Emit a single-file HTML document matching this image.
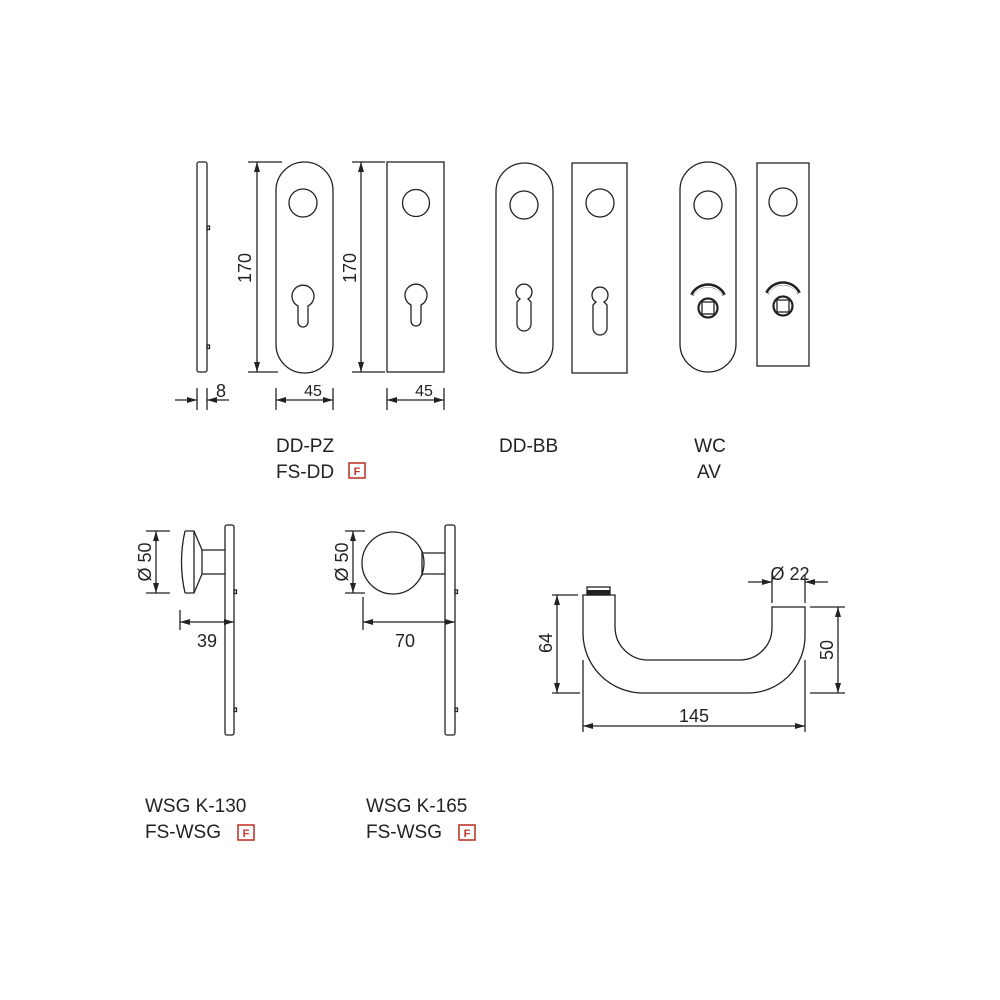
<!DOCTYPE html>
<html><head><meta charset="utf-8"><style>
html,body{margin:0;padding:0;background:#fff;}
svg{display:block;}
text{font-family:"Liberation Sans",sans-serif;fill:#222;}
</style></head><body>
<svg width="1000" height="1000" viewBox="0 0 1000 1000" xmlns="http://www.w3.org/2000/svg">
<defs>
<marker id="ar" viewBox="0 0 10 6" refX="10" refY="3" markerWidth="10" markerHeight="6" orient="auto-start-reverse" markerUnits="userSpaceOnUse"><path d="M0,0 L10,3 L0,6 Z" fill="#222"/></marker>
</defs>
<g fill="none" stroke="#222" stroke-width="1.3">
<!-- side plate -->
<rect x="197" y="162" width="10" height="210" rx="2"/>
<rect x="207" y="226" width="2.5" height="3.5"/>
<rect x="207" y="345" width="2.5" height="3.5"/>
<!-- dim 8 -->
<line x1="197" y1="388" x2="197" y2="410"/>
<line x1="207" y1="388" x2="207" y2="410"/>
<line x1="175" y1="400" x2="197" y2="400" marker-end="url(#ar)"/>
<line x1="229" y1="400" x2="207" y2="400" marker-end="url(#ar)"/>

<!-- DD-PZ oval -->
<rect x="276" y="162" width="57" height="211" rx="28.5"/>
<circle cx="303" cy="203" r="14"/>
<path d="M298,306 A11,11 0 1,1 308,306 L308,322 A5,5 0 0,1 298,322 Z"/>
<line x1="248" y1="162" x2="282" y2="162"/>
<line x1="248" y1="372" x2="278" y2="372"/>
<line x1="257" y1="162" x2="257" y2="372" marker-start="url(#ar)" marker-end="url(#ar)"/>
<line x1="276" y1="388" x2="276" y2="410"/>
<line x1="333" y1="388" x2="333" y2="410"/>
<line x1="276" y1="400" x2="333" y2="400" marker-start="url(#ar)" marker-end="url(#ar)"/>

<!-- rect PZ -->
<rect x="387" y="162" width="57" height="210"/>
<circle cx="416" cy="203" r="13.5"/>
<path d="M411,305 A11,11 0 1,1 421,305 L421,321 A5,5 0 0,1 411,321 Z"/>
<line x1="352" y1="162" x2="385" y2="162"/>
<line x1="352" y1="372" x2="385" y2="372"/>
<line x1="361" y1="162" x2="361" y2="372" marker-start="url(#ar)" marker-end="url(#ar)"/>
<line x1="387" y1="388" x2="387" y2="410"/>
<line x1="444" y1="388" x2="444" y2="410"/>
<line x1="387" y1="400" x2="444" y2="400" marker-start="url(#ar)" marker-end="url(#ar)"/>

<!-- DD-BB -->
<rect x="496" y="163" width="57" height="210" rx="28.5"/>
<circle cx="524" cy="205" r="14"/>
<path d="M520,299 A8,8 0 1,1 528,299 L531,302 L531,324 A7,7 0 0,1 517,324 L517,302 Z"/>
<rect x="572" y="163" width="55" height="210"/>
<circle cx="600" cy="203" r="14"/>
<path d="M596,302 A8,8 0 1,1 604,302 L607,305 L607,328 A7,7 0 0,1 593,328 L593,305 Z"/>

<!-- WC -->
<rect x="680" y="162" width="56" height="210" rx="28"/>
<circle cx="708" cy="205" r="14"/>
<rect x="757" y="163" width="52" height="203"/>
<circle cx="783" cy="202" r="14"/>
</g>
<g fill="none" stroke="#222">
<path d="M692,295 A18,18 0 0,1 724,295" stroke-width="4"/>
<circle cx="708" cy="308" r="9.5" stroke-width="2.2"/>
<rect x="702" y="302" width="12" height="12" stroke-width="1.3"/>
<path d="M767,293 A18,18 0 0,1 799,293" stroke-width="4"/>
<circle cx="783" cy="306" r="9.5" stroke-width="2.2"/>
<rect x="777" y="300" width="12" height="12" stroke-width="1.3"/>
</g>
<path d="M693.5,295 A16.5,16.5 0 0,1 722.5,295" stroke="#fff" stroke-width="1.3" fill="none"/>
<path d="M768.5,293 A16.5,16.5 0 0,1 797.5,293" stroke="#fff" stroke-width="1.3" fill="none"/>

<g fill="none" stroke="#222" stroke-width="1.3">
<!-- knob 1 -->
<rect x="225" y="525" width="9" height="210" rx="2"/>
<rect x="234" y="590" width="2.5" height="3.5"/>
<rect x="234" y="708" width="2.5" height="3.5"/>
<path d="M185,531 L194,531 L202,550 L225,550 M225,574 L202,574 L194,593 L185,593"/>
<path d="M185,531 Q178,562 185,593"/>
<line x1="194" y1="531" x2="194" y2="593"/>
<line x1="202" y1="550" x2="202" y2="574"/>
<line x1="146" y1="531" x2="170" y2="531"/>
<line x1="146" y1="593" x2="170" y2="593"/>
<line x1="156" y1="531" x2="156" y2="593" marker-start="url(#ar)" marker-end="url(#ar)"/>
<line x1="180" y1="610" x2="180" y2="630"/>
<line x1="180" y1="622" x2="234" y2="622" marker-start="url(#ar)" marker-end="url(#ar)"/>

<!-- knob 2 -->
<rect x="445" y="525" width="10" height="210" rx="2"/>
<rect x="455" y="590" width="2.5" height="3.5"/>
<rect x="455" y="708" width="2.5" height="3.5"/>
<circle cx="393" cy="563" r="31"/>
<path d="M422,553 L445,553 M445,574 L422,574 M422,551 L422,576"/>
<line x1="345" y1="531" x2="365" y2="531"/>
<line x1="345" y1="593" x2="365" y2="593"/>
<line x1="353" y1="531" x2="353" y2="593" marker-start="url(#ar)" marker-end="url(#ar)"/>
<line x1="363" y1="597" x2="363" y2="630"/>
<line x1="363" y1="622" x2="455" y2="622" marker-start="url(#ar)" marker-end="url(#ar)"/>

<!-- handle -->
<path d="M583,595 L583,633 A60,60 0 0,0 643,693 L748,693 A57,57 0 0,0 805,636 L805,607 L772,607 L772,628 A32,32 0 0,1 740,660 L648,660 A33,33 0 0,1 615,627 L615,595 Z"/>
<rect x="587" y="587" width="23" height="8"/>
<line x1="552" y1="595" x2="578" y2="595"/>
<line x1="552" y1="693" x2="580" y2="693"/>
<line x1="557" y1="595" x2="557" y2="693" marker-start="url(#ar)" marker-end="url(#ar)"/>
<line x1="810" y1="607" x2="845" y2="607"/>
<line x1="810" y1="693" x2="845" y2="693"/>
<line x1="838" y1="607" x2="838" y2="693" marker-start="url(#ar)" marker-end="url(#ar)"/>
<line x1="772" y1="575" x2="772" y2="603"/>
<line x1="805" y1="575" x2="805" y2="603"/>
<line x1="748" y1="582" x2="772" y2="582" marker-end="url(#ar)"/>
<line x1="828" y1="582" x2="805" y2="582" marker-end="url(#ar)"/>
<line x1="583" y1="660" x2="583" y2="732"/>
<line x1="805" y1="660" x2="805" y2="732"/>
<line x1="583" y1="726" x2="805" y2="726" marker-start="url(#ar)" marker-end="url(#ar)"/>
</g>
<rect x="587" y="590" width="23" height="5" fill="#222"/>

<!-- dimension texts -->
<g font-size="18">
<text x="216" y="397">8</text>
<text x="313" y="396" text-anchor="middle" font-size="16">45</text>
<text x="424" y="396" text-anchor="middle" font-size="16">45</text>
<text transform="translate(251,268) rotate(-90)" text-anchor="middle">170</text>
<text transform="translate(356,268) rotate(-90)" text-anchor="middle">170</text>
<text transform="translate(151,562) rotate(-90)" text-anchor="middle">Ø 50</text>
<text transform="translate(348,562) rotate(-90)" text-anchor="middle">Ø 50</text>
<text x="207" y="647" text-anchor="middle">39</text>
<text x="405" y="647" text-anchor="middle">70</text>
<text transform="translate(552,643) rotate(-90)" text-anchor="middle">64</text>
<text transform="translate(833,650) rotate(-90)" text-anchor="middle">50</text>
<text x="694" y="722" text-anchor="middle">145</text>
<text x="790" y="580" text-anchor="middle">Ø 22</text>
</g>
<!-- labels -->
<g font-size="19">
<text x="276" y="452">DD-PZ</text>
<text x="276" y="478">FS-DD</text>
<text x="499" y="452">DD-BB</text>
<text x="710" y="452" text-anchor="middle">WC</text>
<text x="709" y="478" text-anchor="middle">AV</text>
<text x="145" y="812">WSG K-130</text>
<text x="145" y="838">FS-WSG</text>
<text x="366" y="812">WSG K-165</text>
<text x="366" y="838">FS-WSG</text>
</g>
<g fill="none" stroke="#c0392b" stroke-width="1.6">
<rect x="349" y="463" width="16" height="15"/>
<rect x="238" y="825" width="16" height="15"/>
<rect x="459" y="825" width="16" height="15"/>
</g>
<g font-size="11" font-weight="bold" text-anchor="middle">
<text x="357" y="475" style="fill:#c0392b">F</text>
<text x="246" y="837" style="fill:#c0392b">F</text>
<text x="467" y="837" style="fill:#c0392b">F</text>
</g>
</svg>
</body></html>
